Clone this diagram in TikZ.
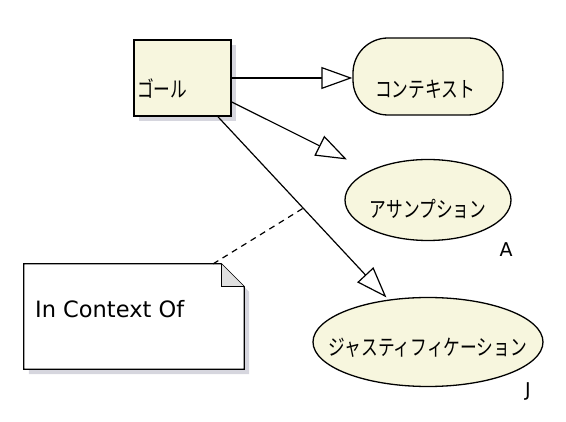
\documentclass[tikz,border=0pt]{standalone}
\usepackage{fontspec}
\usepackage{xcolor}
\newfontfamily\jpfont[FakeStretch=0.76]{Noto Sans CJK JP}
\newfontfamily\latfont{DejaVu Sans}
\definecolor{GsnCream}{RGB}{247,246,222}
\definecolor{GsnShadow}{RGB}{214,214,222}
\definecolor{GsnEar}{RGB}{224,224,224}
\usetikzlibrary{positioning}
\usetikzlibrary{arrows.meta}
\usetikzlibrary{shapes.geometric}
\usetikzlibrary{shadows}

\begin{document}
\begin{tikzpicture}[
      , x=1pt, y=-1pt
      , goalbox/.style={rectangle, draw, line width=1.6pt, fill=GsnCream, inner sep=0pt, minimum width=97pt, minimum height=76pt, drop shadow={shadow xshift=5pt, shadow yshift=-5pt, fill=GsnShadow, opacity=1}}
      , contextbox/.style={rectangle, draw, line width=1.3pt, fill=GsnCream, rounded corners=35pt, inner sep=0pt, minimum width=150pt, minimum height=77pt}
      , gsnellipse/.style={ellipse, draw, line width=1.3pt, fill=GsnCream, inner sep=0pt}
      , notebox/.style={rectangle, inner sep=0pt, minimum width=220pt, minimum height=105pt}
      , jp/.style={font=\jpfont\fontsize{22}{26}\selectfont, inner sep=0pt}
      , lat/.style={font=\latfont\fontsize{19}{23}\selectfont, inner sep=0pt}
      , link/.style={-{Triangle[length=31pt, width=22pt, fill=white]}, line width=1.2pt}
      ]

      \useasboundingbox (0,0) rectangle (566,422);

      \node[goalbox] (goal) at (182.5,78) {};
      \node[jp, anchor=west] (goal-text) at (137,89) {ゴール};

      \node[contextbox] (context) at (428,76.5) {};
      \node[jp] (context-text) at (425,89) {コンテキスト};

      \node[gsnellipse, minimum width=166pt, minimum height=81pt] (assumption) at (428,200) {};
      \node[jp] (assumption-text) at (428,209) {アサンプション};
      \node[lat] (assumption-tag) at (506,250) {A};

      \node[gsnellipse, minimum width=230pt, minimum height=89pt] (justification) at (428,342) {};
      \node[jp] (justification-text) at (428,348) {ジャスティフィケーション};
      \node[lat] (justification-tag) at (528,391) {J};

      \node[notebox] (note) at (134,316.5) {};
      \draw[fill=white, line width=1.3pt, drop shadow={shadow xshift=5pt, shadow yshift=-5pt, fill=GsnShadow, opacity=1}]
            (note.north west) -- ([xshift=-23pt]note.north east) -- ([yshift=-23pt]note.north east)
            -- (note.south east) -- (note.south west) -- cycle;
      \draw[fill=GsnEar, line width=1.3pt] ([xshift=-23pt]note.north east) -- ([xshift=-23pt, yshift=-23pt]note.north east) -- ([yshift=-23pt]note.north east);
      \node[font=\latfont\fontsize{22.5}{27}\selectfont, inner sep=0pt, anchor=west] (note-text) at (35,309.5) {In Context Of};

      \draw[link] (goal.east) -- (goal.east -| context.west);
      \draw[link, shorten >=25pt] ([yshift=-24pt]goal.east) -- (assumption);
      \draw[link, shorten >=3pt] ([xshift=35.5pt]goal.south) -- coordinate[pos=0.5] (in-context-point) (justification);

      \draw[dash pattern=on 6pt off 5pt, line width=1.2pt] ([xshift=-31pt]note.north east) -- (in-context-point);
    \end{tikzpicture}
\end{document}
